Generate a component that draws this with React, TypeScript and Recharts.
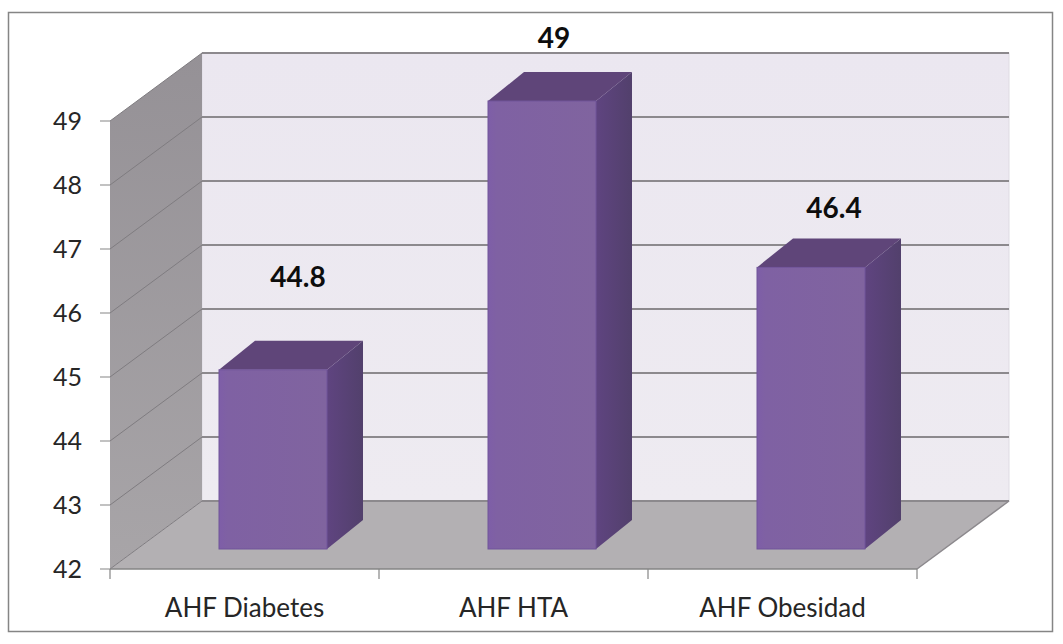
import { BarChart, Bar, XAxis, YAxis, LabelList, Customized } from "recharts";

const categories = ["AHF Diabetes", "AHF HTA", "AHF Obesidad"];
const seriesValues = [44.8, 49, 46.4];
const yTicks = [42, 43, 44, 45, 46, 47, 48, 49];

const chartData = categories.map((name, i) => ({ name, value: seriesValues[i] }));

const FONT = "Lato, sans-serif";
const W = 1063;
const H = 644;

// plot box of the front plane
const LEFT = 110;
const RIGHT = 917;
const TOP = 121;
const BOTTOM = 569;
const UNIT = (BOTTOM - TOP) / 7;

// depth of the box and of each column
const WALL_DX = 92;
const WALL_DY = 68;
const BAR_SHIFT_X = 28;
const BAR_LIFT = 20;
const BAR_DX = 36;
const BAR_DY = 29;

// where each value label sits relative to its column's front top centre
const labelOffsets = [
  { dx: 25, dy: -94 },
  { dx: 12, dy: -64 },
  { dx: 23, dy: -60 },
];

function Walls() {
  const gridYs = yTicks.map((t) => BOTTOM - (t - 42) * UNIT);
  const band = (RIGHT - LEFT) / categories.length;
  return (
    <g>
      <defs>
        <linearGradient id="sideWall" x1="0" y1="0" x2="0" y2="1">
          <stop offset="0%" stopColor="#959196" />
          <stop offset="100%" stopColor="#a8a5a8" />
        </linearGradient>
        <linearGradient id="backWall" x1="0" y1="0" x2="0" y2="1">
          <stop offset="0%" stopColor="#ebe7f0" />
          <stop offset="100%" stopColor="#eeebf1" />
        </linearGradient>
        <linearGradient id="barFront" x1="0" y1="0" x2="1" y2="0">
          <stop offset="0%" stopColor="#7e5ea8" />
          <stop offset="8%" stopColor="#7f61a3" />
          <stop offset="100%" stopColor="#80649f" />
        </linearGradient>
        <linearGradient id="barSide" x1="0" y1="0" x2="1" y2="0">
          <stop offset="0%" stopColor="#5f4480" />
          <stop offset="100%" stopColor="#52406c" />
        </linearGradient>
      </defs>
      <rect x={8.5} y={12.5} width={1044} height={619} fill="#ffffff" stroke="#858585" strokeWidth={1.5} />
      <rect x={LEFT + WALL_DX} y={TOP - WALL_DY} width={RIGHT - LEFT} height={BOTTOM - TOP} fill="url(#backWall)" stroke="#dedbe3" strokeWidth={1} />
      <polygon
        points={`${LEFT},${TOP} ${LEFT + WALL_DX},${TOP - WALL_DY} ${LEFT + WALL_DX},${BOTTOM - WALL_DY} ${LEFT},${BOTTOM}`}
        fill="url(#sideWall)"
      />
      <polygon
        points={`${LEFT},${BOTTOM} ${RIGHT},${BOTTOM} ${RIGHT + WALL_DX},${BOTTOM - WALL_DY} ${LEFT + WALL_DX},${BOTTOM - WALL_DY}`}
        fill="#b3b0b3"
      />
      {gridYs.map((y) => (
        <g key={y} stroke="#7f7c80" fill="none">
          <line x1={LEFT} y1={y} x2={LEFT + WALL_DX} y2={y - WALL_DY} strokeWidth={1} />
          <line x1={LEFT + WALL_DX} y1={y - WALL_DY} x2={RIGHT + WALL_DX} y2={y - WALL_DY} strokeWidth={2} stroke="#8c898d" />
        </g>
      ))}
      <line x1={RIGHT} y1={BOTTOM} x2={RIGHT + WALL_DX} y2={BOTTOM - WALL_DY} stroke="#8c898d" strokeWidth={1.5} />
      {/* category boundaries on the x axis */}
      {[0, 1, 2, 3].map((i) => (
        <line key={i} x1={LEFT + band * i} y1={BOTTOM} x2={LEFT + band * i} y2={BOTTOM + 10} stroke="#858585" strokeWidth={1.2} />
      ))}
    </g>
  );
}

function Column3D(props: any) {
  const { x, y, width, height } = props;
  const left = x + BAR_SHIFT_X;
  const top = y - BAR_LIFT;
  const right = left + width;
  const bottom = top + height;
  return (
    <g>
      <polygon
        points={`${left},${top} ${left + BAR_DX},${top - BAR_DY} ${right + BAR_DX},${top - BAR_DY} ${right},${top}`}
        fill="#5f4579"
      />
      <polygon
        points={`${right},${top} ${right + BAR_DX},${top - BAR_DY} ${right + BAR_DX},${bottom - BAR_DY} ${right},${bottom}`}
        fill="url(#barSide)"
      />
      <rect x={left} y={top} width={width} height={height} fill="url(#barFront)" stroke="#71549a" strokeWidth={1} />
    </g>
  );
}

function ValueLabel(props: any) {
  const { x, y, width, value, index } = props;
  const off = labelOffsets[index];
  return (
    <text
      x={x + BAR_SHIFT_X + width / 2 + off.dx}
      y={y - BAR_LIFT + off.dy}
      textAnchor="middle"
      dominantBaseline="central"
      fontFamily={FONT}
      fontWeight={700}
      fontSize={28}
      fill="#0d0d0d"
    >
      {value}
    </text>
  );
}

export default function App() {
  return (
    <div style={{ position: "absolute", left: 0, top: 0, width: W, height: H, background: "#ffffff" }}>
      <BarChart
        width={W}
        height={H}
        data={chartData}
        barSize={108}
        margin={{ top: TOP, right: W - RIGHT, bottom: 30, left: 50 }}
      >
        <Customized component={Walls} />
        <XAxis
          dataKey="name"
          height={H - BOTTOM - 30}
          tickLine={false}
          axisLine={{ stroke: "#858585", strokeWidth: 1.5 }}
          tick={{ fill: "#262626", fontFamily: FONT, fontSize: 26 }}
          tickMargin={24}
          interval={0}
        />
        <YAxis
          width={60}
          domain={[42, 49]}
          ticks={yTicks}
          interval={0}
          tickSize={10}
          tickMargin={18}
          tickLine={{ stroke: "#858585" }}
          axisLine={false}
          tick={{ fill: "#262626", fontFamily: FONT, fontSize: 25 }}
        />
        <Bar dataKey="value" shape={<Column3D />} isAnimationActive={false}>
          <LabelList dataKey="value" content={<ValueLabel />} />
        </Bar>
      </BarChart>
    </div>
  );
}
